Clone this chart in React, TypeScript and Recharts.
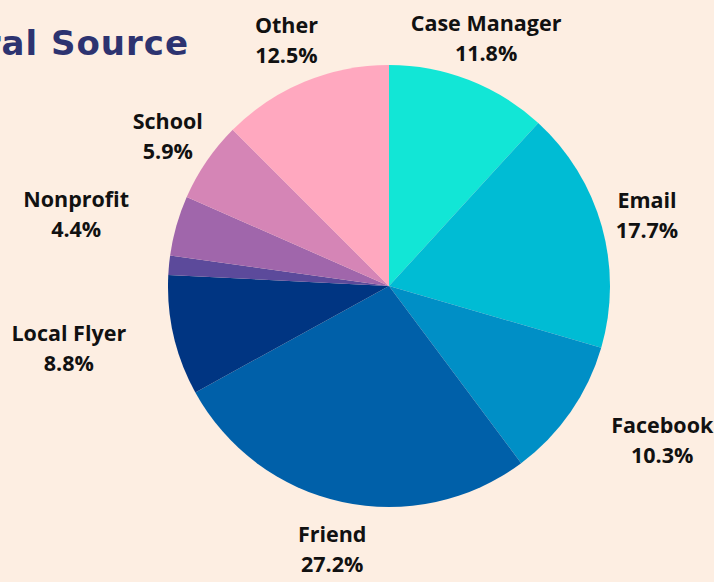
import { PieChart, Pie, Cell } from "recharts";

const sources = [
  "Case Manager",
  "Email",
  "Facebook",
  "Friend",
  "Local Flyer",
  "Unlabeled",
  "Nonprofit",
  "School",
  "Other",
];
const shares = [11.8, 17.7, 10.3, 27.2, 8.8, 1.4, 4.4, 5.9, 12.5];
const colors = [
  "#12e6d6",
  "#00bcd4",
  "#008fc6",
  "#0060a9",
  "#003582",
  "#5c4a9b",
  "#a066ab",
  "#d585b6",
  "#ffa8bf",
];

const data = sources.map((name, i) => ({ name, value: shares[i] }));

// labels that sit sideways get pushed out past their own width
const nudge: Record<string, { dx: number; dy: number }> = {
  Facebook: { dx: 53, dy: 0 },
  "Local Flyer": { dx: -59, dy: 0 },
  Nonprofit: { dx: -55, dy: 0 },
};

const RAD = Math.PI / 180;

function renderLabel(props: any) {
  const { cx, cy, midAngle, outerRadius, name, value } = props;
  if (value < 2) return null;
  const r = outerRadius + 47;
  const n = nudge[name] || { dx: 0, dy: 0 };
  const x = cx + r * Math.cos(-midAngle * RAD) + n.dx;
  const y = cy + r * Math.sin(-midAngle * RAD) + n.dy;
  return (
    <text
      x={x}
      y={y}
      textAnchor="middle"
      fill="#111"
      style={{ fontFamily: "'Open Sans', sans-serif", fontSize: 21.5, fontWeight: 700 }}
    >
      <tspan x={x} y={y - 5.5}>
        {name}
      </tspan>
      <tspan x={x} y={y + 24.5}>
        {value.toFixed(1)}%
      </tspan>
    </text>
  );
}

export default function App() {
  return (
    <div
      style={{
        position: "absolute",
        left: 0,
        top: 0,
        width: 714,
        height: 582,
        background: "#fdeee2",
        overflow: "hidden",
      }}
    >
      <div
        style={{
          position: "absolute",
          right: 714 - 189,
          top: 23,
          whiteSpace: "nowrap",
          fontFamily: "'DejaVu Sans', sans-serif",
          fontWeight: 700,
          fontSize: 34,
          letterSpacing: 1,
          lineHeight: "40px",
          color: "#2d3370",
        }}
      >
        Referral Source
      </div>
      <PieChart width={714} height={582} style={{ position: "absolute", left: 0, top: 0 }}>
        <Pie
          data={data}
          dataKey="value"
          nameKey="name"
          cx={384}
          cy={281}
          outerRadius={221}
          startAngle={90}
          endAngle={-270}
          stroke="none"
          label={renderLabel}
          labelLine={false}
          isAnimationActive={false}
        >
          {data.map((d, i) => (
            <Cell key={d.name} fill={colors[i]} />
          ))}
        </Pie>
      </PieChart>
    </div>
  );
}
